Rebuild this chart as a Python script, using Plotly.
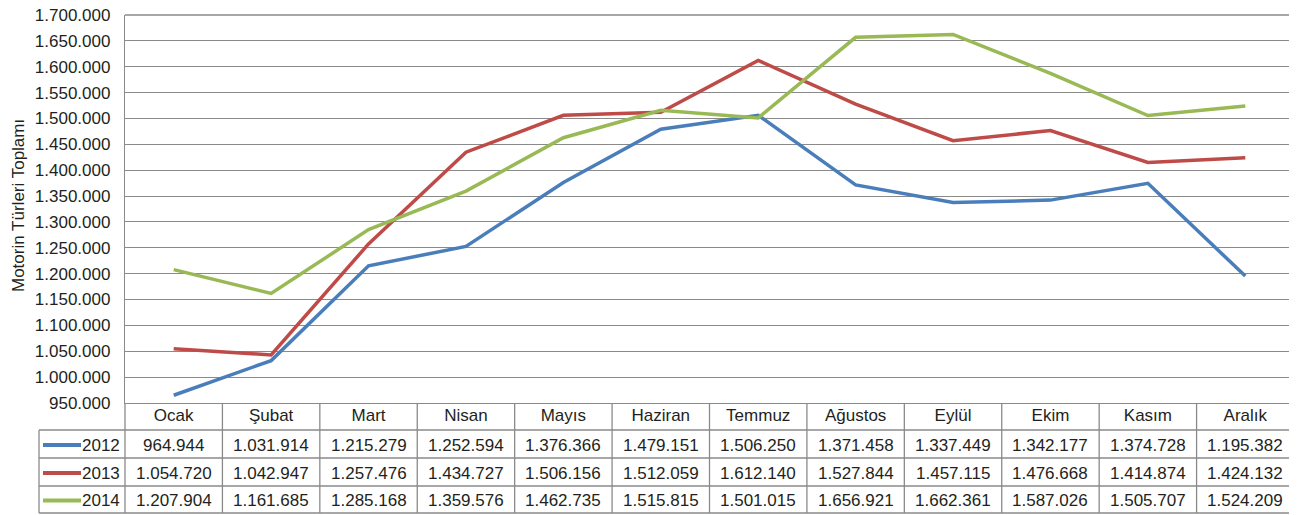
import plotly.graph_objects as go

# ---- data ----
months = ["Ocak", "Şubat", "Mart", "Nisan", "Mayıs", "Haziran", "Temmuz",
          "Ağustos", "Eylül", "Ekim", "Kasım", "Aralık"]
years = ["2012", "2013", "2014"]
v2012 = [964944, 1031914, 1215279, 1252594, 1376366, 1479151, 1506250,
         1371458, 1337449, 1342177, 1374728, 1195382]
v2013 = [1054720, 1042947, 1257476, 1434727, 1506156, 1512059, 1612140,
         1527844, 1457115, 1476668, 1414874, 1424132]
v2014 = [1207904, 1161685, 1285168, 1359576, 1462735, 1515815, 1501015,
         1656921, 1662361, 1587026, 1505707, 1524209]
series = [v2012, v2013, v2014]
colors = ["#4A7EBB", "#BE4B48", "#98B954"]
y_ticks = list(range(950000, 1700001, 50000))
y_title = "Motorin Türleri Toplamı"

# ---- layout geometry (pixels in the page; the page body has an 8px margin) ----
PAGE_OFF = 8
W, H = 1297 - PAGE_OFF, 515 - PAGE_OFF
plot_left, plot_right, plot_top, plot_bottom = 125, 1294, 15, 403
L = plot_left - PAGE_OFF
T = plot_top - PAGE_OFF
R = W - (plot_right - PAGE_OFF)
B = H - (plot_bottom - PAGE_OFF)
plot_w = plot_right - plot_left
plot_h = plot_bottom - plot_top
row_lines_px = [430, 458, 486, 513]      # bottoms of header / data rows
legend_left_px = 39
FONT = "Liberation Sans, Arial, Helvetica, sans-serif"
TXT = "#231f20"
GRID = "#8a8a8a"


def py(px):
    return (plot_bottom - px) / plot_h


def pxx(px):
    return (px - plot_left) / plot_w


def fmt(v):
    return f"{v:,}".replace(",", ".")


fig = go.Figure()
for name, vals, c in zip(years, series, colors):
    fig.add_trace(go.Scatter(x=months, y=vals, mode="lines", name=name,
                             line=dict(color=c, width=3.5)))

shapes = []
annotations = []

# horizontal table lines
for yp in row_lines_px:
    shapes.append(dict(type="line", xref="paper", yref="paper",
                       x0=pxx(legend_left_px), x1=1, y0=py(yp), y1=py(yp),
                       line=dict(color=GRID, width=1.3)))
# vertical table lines
shapes.append(dict(type="line", xref="paper", yref="paper",
                   x0=pxx(legend_left_px), x1=pxx(legend_left_px),
                   y0=py(row_lines_px[0]), y1=py(row_lines_px[-1]),
                   line=dict(color=GRID, width=1.3)))
for xp in (0, 1):
    shapes.append(dict(type="line", xref="paper", yref="paper",
                       x0=xp, x1=xp, y0=0, y1=py(row_lines_px[-1]),
                       line=dict(color=GRID, width=1.3)))
for i in range(len(months) - 1):
    shapes.append(dict(type="line", xref="x", yref="paper",
                       x0=i + 0.5, x1=i + 0.5, y0=0, y1=py(row_lines_px[-1]),
                       line=dict(color=GRID, width=1.3)))
# top frame line of the plot area (at the 1.700.000 grid level)
shapes.append(dict(type="line", xref="paper", yref="paper",
                   x0=0, x1=1, y0=1, y1=1,
                   line=dict(color=GRID, width=1.3)))

# row contents
for r, (name, vals, c) in enumerate(zip(years, series, colors)):
    top = row_lines_px[r]
    bot = row_lines_px[r + 1]
    yc = py((top + bot) / 2 + 1)
    shapes.append(dict(type="line", xref="paper", yref="paper",
                       x0=pxx(43), x1=pxx(81), y0=yc, y1=yc,
                       line=dict(color=c, width=4)))
    annotations.append(dict(xref="paper", yref="paper", x=pxx(122), y=yc,
                            xanchor="right", yanchor="middle", showarrow=False,
                            text=name, font=dict(family=FONT, size=17, color=TXT)))
    for m, v in zip(months, vals):
        annotations.append(dict(xref="x", yref="paper", x=m, y=yc,
                                xanchor="center", yanchor="middle", showarrow=False,
                                text=fmt(v), font=dict(family=FONT, size=17, color=TXT)))

# y-axis title
annotations.append(dict(xref="paper", yref="paper", x=pxx(18), y=py(206),
                        xanchor="center", yanchor="middle", showarrow=False,
                        textangle=-90, text=y_title,
                        font=dict(family=FONT, size=17, color=TXT)))

fig.update_layout(
    width=W, height=H,
    margin=dict(l=L, r=R, t=T, b=B, pad=0, autoexpand=False),
    paper_bgcolor="white", plot_bgcolor="white",
    showlegend=False,
    separators=",.",
    font=dict(family=FONT, size=17, color=TXT),
    xaxis=dict(type="category", range=[-0.5, len(months) - 0.5],
               showgrid=False, zeroline=False, showline=True, automargin=False,
               linecolor=GRID, linewidth=1.3, ticks="",
               tickfont=dict(family=FONT, size=17, color=TXT),
               ticklabelstandoff=-4, fixedrange=True),
    yaxis=dict(range=[950000, 1700000], tickvals=y_ticks, tickformat=",d",
               showgrid=True, gridcolor=GRID, gridwidth=1.3, automargin=False,
               zeroline=False, showline=True, mirror=True,
               linecolor=GRID, linewidth=1.3, ticks="",
               ticklabelstandoff=10, ticklabeloverflow="allow",
               tickfont=dict(family=FONT, size=17, color=TXT)),
    shapes=shapes,
    annotations=annotations,
)

fig.write_html("out.html")
